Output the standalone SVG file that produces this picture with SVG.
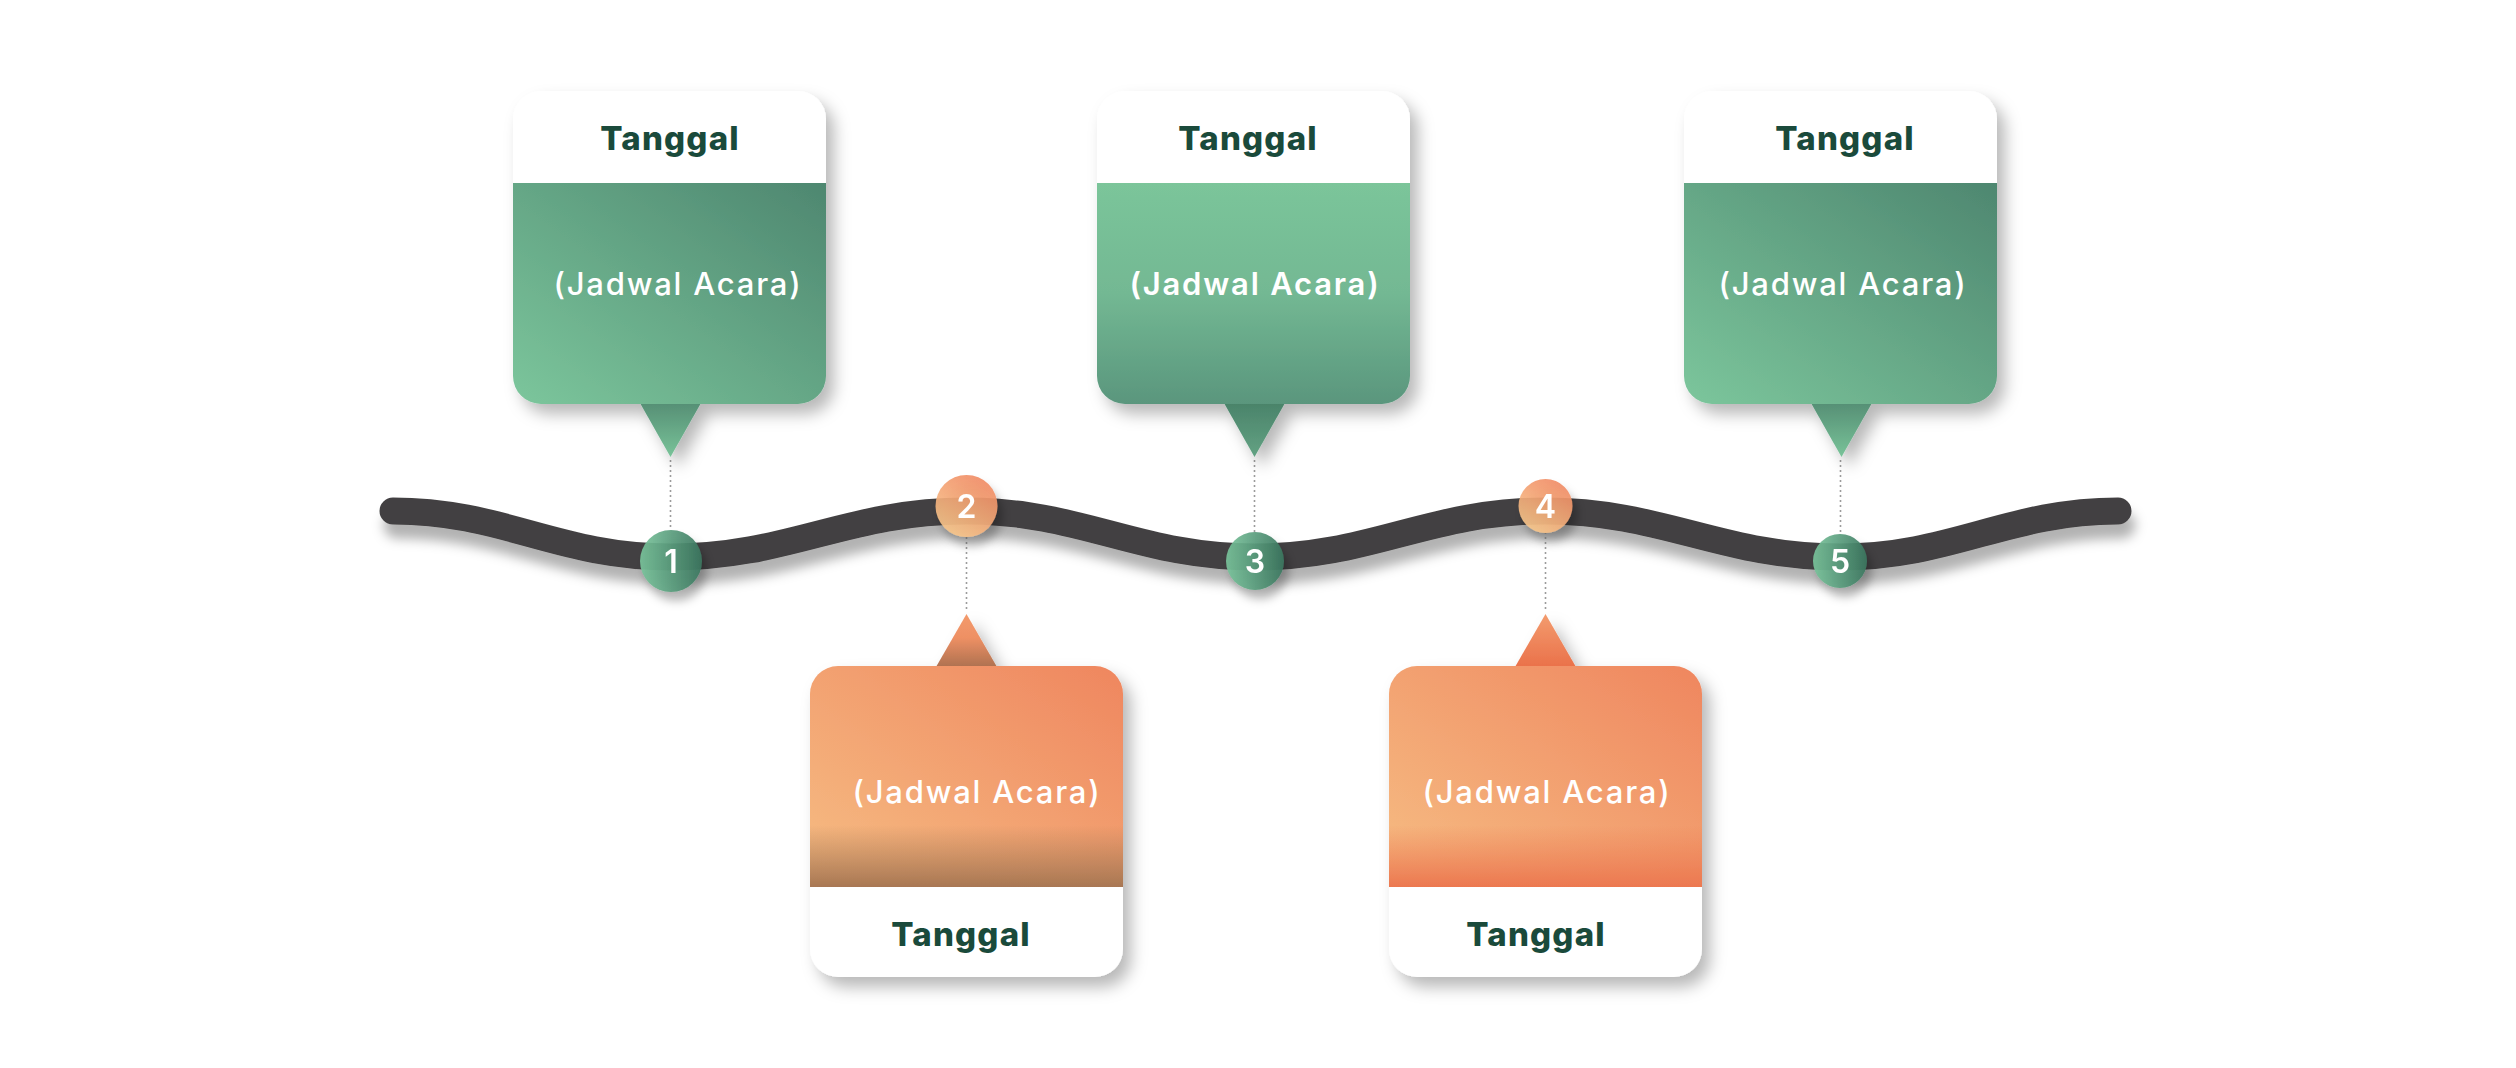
<svg xmlns="http://www.w3.org/2000/svg" xmlns:xlink="http://www.w3.org/1999/xlink" width="2516" height="1068" viewBox="0 0 2516 1068">
  <style>
    .date { font-family: "Inter", "Liberation Sans", sans-serif; font-weight: 800; font-size: 33px; fill: #1A4A3B; letter-spacing: 1.2px; text-anchor: middle; }
    .event { font-family: "Inter", "Liberation Sans", sans-serif; font-weight: 500; font-size: 31px; fill: #FFFFFF; letter-spacing: 1.8px; text-anchor: middle; }
    .event.strong { font-weight: 600; }
    .num { font-family: "Inter", "Liberation Sans", sans-serif; font-weight: 600; font-size: 32px; fill: #FFFFFF; text-anchor: middle; }
    .dot { stroke: #9C9C9C; stroke-width: 1.6; stroke-dasharray: 2 3; fill: none; }
    .wave { stroke: #434142; stroke-width: 27; stroke-linecap: round; fill: none; }
  </style>
  <defs>
    <filter id="shadow" x="-20%" y="-20%" width="150%" height="150%">
      <feDropShadow dx="8" dy="10" stdDeviation="8" flood-color="#000" flood-opacity="0.28"/>
    </filter>
    <filter id="lineShadow" x="-5%" y="-50%" width="110%" height="250%">
      <feDropShadow dx="4" dy="14" stdDeviation="6" flood-color="#000" flood-opacity="0.3"/>
    </filter>
    <filter id="circShadow" x="-50%" y="-50%" width="200%" height="200%">
      <feDropShadow dx="5" dy="9" stdDeviation="5" flood-color="#000" flood-opacity="0.3"/>
    </filter>
    <linearGradient id="gGreenDiag" x1="0" y1="1" x2="1" y2="0">
      <stop offset="0" stop-color="#7CC69C"/>
      <stop offset="1" stop-color="#4E8770"/>
    </linearGradient>
    <linearGradient id="gGreenVert" x1="0" y1="0" x2="0" y2="1">
      <stop offset="0" stop-color="#7BC59A"/>
      <stop offset="0.5" stop-color="#73B893"/>
      <stop offset="1" stop-color="#5A967D"/>
    </linearGradient>
    <linearGradient id="gTriGreen" x1="0" y1="0" x2="0" y2="1">
      <stop offset="0" stop-color="#568F75"/>
      <stop offset="1" stop-color="#79C399"/>
    </linearGradient>
    <linearGradient id="gTriGreenDark" x1="0" y1="0" x2="0" y2="1">
      <stop offset="0" stop-color="#4A836A"/>
      <stop offset="1" stop-color="#63A283"/>
    </linearGradient>
    <linearGradient id="gOrange" x1="0" y1="1" x2="1" y2="0">
      <stop offset="0" stop-color="#F6BD83"/>
      <stop offset="1" stop-color="#EF865F"/>
    </linearGradient>
    <linearGradient id="gOrangeBrownBottom" x1="0" y1="0" x2="0" y2="1">
      <stop offset="0.72" stop-color="#A87753" stop-opacity="0"/>
      <stop offset="1" stop-color="#A87753" stop-opacity="1"/>
    </linearGradient>
    <linearGradient id="gOrangeRedBottom" x1="0" y1="0" x2="0" y2="1">
      <stop offset="0.72" stop-color="#EC7850" stop-opacity="0"/>
      <stop offset="1" stop-color="#EC7850" stop-opacity="1"/>
    </linearGradient>
    <linearGradient id="gTriBrown" x1="0" y1="0" x2="0" y2="1">
      <stop offset="0" stop-color="#F39A6C"/>
      <stop offset="0.45" stop-color="#EE9064"/>
      <stop offset="1" stop-color="#AE7150"/>
    </linearGradient>
    <linearGradient id="gTriRed" x1="0" y1="0" x2="0" y2="1">
      <stop offset="0" stop-color="#F39C6E"/>
      <stop offset="1" stop-color="#EA714A"/>
    </linearGradient>
    <linearGradient id="gCircGreen" x1="0" y1="0" x2="1" y2="0">
      <stop offset="0" stop-color="#79C49B"/>
      <stop offset="1" stop-color="#3B765F"/>
    </linearGradient>
    <linearGradient id="gCircOrange" x1="0.2" y1="1" x2="0.8" y2="0">
      <stop offset="0" stop-color="#F8CA8D"/>
      <stop offset="1" stop-color="#F08660"/>
    </linearGradient>
    <path id="upTop" d="M0,92 V28 A28,28 0 0 1 28,0 H285 A28,28 0 0 1 313,28 V92 Z"/>
    <path id="upBody" d="M0,92 H313 V285 A28,28 0 0 1 285,313 H28 A28,28 0 0 1 0,285 Z"/>
    <path id="upTri" d="M127,312 H188 L157.5,366 Z"/>
    <path id="lowBody" d="M0,28 A28,28 0 0 1 28,0 H285 A28,28 0 0 1 313,28 V221 H0 Z"/>
    <path id="lowBottom" d="M0,221 H313 V283 A28,28 0 0 1 285,311 H28 A28,28 0 0 1 0,283 Z"/>
    <path id="lowTri" d="M126,1 H187 L156.5,-52 Z"/>
  </defs>

  <rect width="2516" height="1068" fill="#FFFFFF"/>

  <g id="timeline">
    <path class="wave" filter="url(#lineShadow)" d="M393,511 C503,511 558,557 671,557 C789,557 848,511 966,511 C1082,511 1139,557 1255,557 C1371,557 1429,511 1545,511 C1663,511 1722,557 1840,557 C1952,557 2008,511 2118,511"/>
  </g>

  <g id="connectors">
    <line class="dot" x1="670.5" y1="460" x2="670.5" y2="530"/>
    <line class="dot" x1="966.5" y1="537" x2="966.5" y2="612"/>
    <line class="dot" x1="1254.5" y1="460" x2="1254.5" y2="532"/>
    <line class="dot" x1="1545.5" y1="532" x2="1545.5" y2="612"/>
    <line class="dot" x1="1840.5" y1="460" x2="1840.5" y2="535"/>
  </g>

  <g id="marker-1" filter="url(#circShadow)">
    <circle cx="671" cy="561" r="31" fill="url(#gCircGreen)" fill-opacity="0.92"/>
    <text class="num" x="671" y="572.5">1</text>
  </g>
  <g id="marker-2" filter="url(#circShadow)">
    <circle cx="966.5" cy="506" r="31" fill="url(#gCircOrange)" fill-opacity="0.9"/>
    <text class="num" x="966.5" y="517.5">2</text>
  </g>
  <g id="marker-3" filter="url(#circShadow)">
    <circle cx="1255" cy="561" r="29" fill="url(#gCircGreen)" fill-opacity="0.92"/>
    <text class="num" x="1255" y="572.5">3</text>
  </g>
  <g id="marker-4" filter="url(#circShadow)">
    <circle cx="1545.5" cy="506" r="27" fill="url(#gCircOrange)" fill-opacity="0.9"/>
    <text class="num" x="1545.5" y="517.5">4</text>
  </g>
  <g id="marker-5" filter="url(#circShadow)">
    <circle cx="1840" cy="561" r="27" fill="url(#gCircGreen)" fill-opacity="0.92"/>
    <text class="num" x="1840" y="572.5">5</text>
  </g>

  <g id="card-1" transform="translate(513,91)">
    <g filter="url(#shadow)">
      <use href="#upTri" fill="url(#gTriGreen)"/>
      <use href="#upTop" fill="#FFFFFF"/>
      <use href="#upBody" fill="url(#gGreenDiag)"/>
    </g>
    <text class="date" x="157" y="59">Tanggal</text>
    <text class="event" x="165" y="204">(Jadwal Acara)</text>
  </g>

  <g id="card-3" transform="translate(1097,91)">
    <g filter="url(#shadow)">
      <use href="#upTri" fill="url(#gTriGreenDark)"/>
      <use href="#upTop" fill="#FFFFFF"/>
      <use href="#upBody" fill="url(#gGreenVert)"/>
    </g>
    <text class="date" x="151" y="59">Tanggal</text>
    <text class="event strong" x="158" y="204">(Jadwal Acara)</text>
  </g>

  <g id="card-5" transform="translate(1684,91)">
    <g filter="url(#shadow)">
      <use href="#upTri" fill="url(#gTriGreen)"/>
      <use href="#upTop" fill="#FFFFFF"/>
      <use href="#upBody" fill="url(#gGreenDiag)"/>
    </g>
    <text class="date" x="161" y="59">Tanggal</text>
    <text class="event" x="159" y="204">(Jadwal Acara)</text>
  </g>

  <g id="card-2" transform="translate(810,666)">
    <g filter="url(#shadow)">
      <use href="#lowTri" fill="url(#gTriBrown)"/>
      <use href="#lowBody" fill="url(#gOrange)"/>
      <use href="#lowBody" fill="url(#gOrangeBrownBottom)"/>
      <use href="#lowBottom" fill="#FFFFFF"/>
    </g>
    <text class="event" x="167" y="137">(Jadwal Acara)</text>
    <text class="date" x="151" y="280">Tanggal</text>
  </g>

  <g id="card-4" transform="translate(1389,666)">
    <g filter="url(#shadow)">
      <use href="#lowTri" fill="url(#gTriRed)"/>
      <use href="#lowBody" fill="url(#gOrange)"/>
      <use href="#lowBody" fill="url(#gOrangeRedBottom)"/>
      <use href="#lowBottom" fill="#FFFFFF"/>
    </g>
    <text class="event" x="158" y="137">(Jadwal Acara)</text>
    <text class="date" x="147" y="280">Tanggal</text>
  </g>
</svg>
